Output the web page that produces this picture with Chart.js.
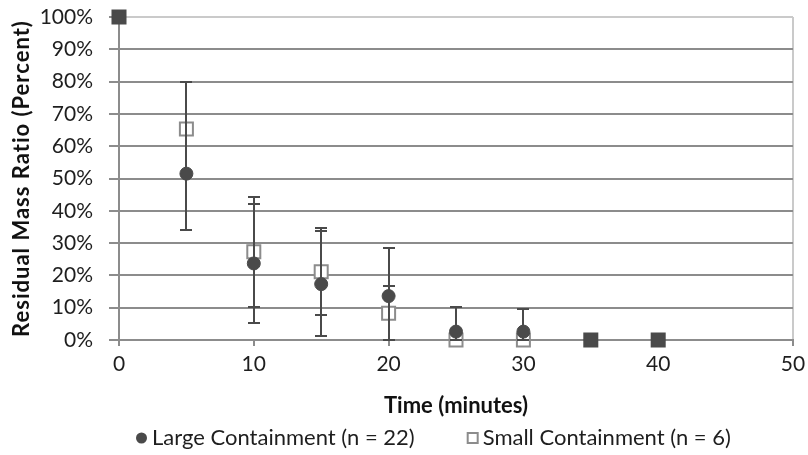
<!DOCTYPE html>
<html><head><meta charset="utf-8">
<script src="https://cdn.jsdelivr.net/npm/chart.js@4"></script>
<style>html,body{margin:0;padding:0;background:#fff}#wrap{width:808px;height:455px;position:relative}canvas{display:block}</style>
</head><body><div id="wrap"><canvas id="c" width="808" height="455"></canvas></div>
<script>
// ---- data ----
const times = [0, 5, 10, 15, 20, 25, 30, 35, 40];
const largeValues = [100, 51.5, 23.7, 17.3, 13.6, 2.6, 2.6, 0, 0];
const smallValues = [100, 65.3, 27.3, 21.1, 8.3, 0, 0, 0, 0];
const largeLow  = [null, 34, 5.4, 1.2, 0, 0, 0, null, null];
const largeHigh = [null, 80, 42, 33.6, 28.6, 10.2, 9.5, null, null];
const smallLow  = [null, null, 10.3, 7.6, 0, null, null, null, null];
const smallHigh = [null, null, 44.4, 34.6, 16.7, null, null, null, null];
const smallFilled = [true, false, false, false, false, false, false, true, true];
const xTicks = [0, 10, 20, 30, 40, 50];
const yTicks = [0, 10, 20, 30, 40, 50, 60, 70, 80, 90, 100];
const seriesNames = ['Large Containment (n = 22)', 'Small Containment (n = 6)'];
const xTitle = 'Time (minutes)';
const yTitle = 'Residual Mass Ratio (Percent)';

// ---- style ----
const DARK = '#4a4a4a';
const GRID = '#8c8c8c';
const LIGHT = '#cacaca';
const FONT = 'Lato';
const FS = 22;
const TFS = 21;

const errorBars = {
  id: 'errorBars',
  afterDatasetsDraw(chart) {
    const {ctx, scales: {x, y}} = chart;
    const sets = [[largeLow, largeHigh], [smallLow, smallHigh]];
    ctx.save();
    ctx.strokeStyle = DARK;
    ctx.lineWidth = 2;
    sets.forEach(([lo, hi]) => {
      times.forEach((t, i) => {
        if (lo[i] == null || hi[i] == null) return;
        const px = Math.round(x.getPixelForValue(t));
        const y1 = Math.round(y.getPixelForValue(lo[i]));
        const y2 = Math.round(y.getPixelForValue(hi[i]));
        ctx.beginPath();
        ctx.moveTo(px, y1); ctx.lineTo(px, y2);
        ctx.moveTo(px - 6, y1); ctx.lineTo(px + 6, y1);
        ctx.moveTo(px - 6, y2); ctx.lineTo(px + 6, y2);
        ctx.stroke();
      });
    });
    ctx.restore();
  }
};

const customLegend = {
  id: 'customLegend',
  afterDraw(chart) {
    const ctx = chart.ctx;
    const ly = 438;
    let lx = 136;
    ctx.save();
    ctx.font = FS + 'px ' + FONT;
    ctx.textBaseline = 'middle';
    ctx.textAlign = 'left';
    // item 1: filled circle
    ctx.fillStyle = DARK;
    ctx.beginPath(); ctx.arc(lx + 5.5, ly, 5.5, 0, Math.PI * 2); ctx.fill();
    ctx.fillStyle = '#1e1e1e';
    ctx.fillText(seriesNames[0], lx + 16, ly);
    lx = lx + 16 + ctx.measureText(seriesNames[0]).width + 52;
    // item 2: open square
    ctx.fillStyle = '#fff';
    ctx.strokeStyle = GRID;
    ctx.lineWidth = 2;
    ctx.fillRect(lx + 1, ly - 5, 10, 10);
    ctx.strokeRect(lx + 1, ly - 5, 10, 10);
    ctx.fillStyle = '#1e1e1e';
    ctx.fillText(seriesNames[1], lx + 16, ly);
    ctx.restore();
  }
};

const toPts = vals => times.map((t, i) => ({x: t, y: vals[i]}));

new Chart(document.getElementById('c'), {
  type: 'scatter',
  data: {
    datasets: [
      {
        label: seriesNames[0],
        data: toPts(largeValues),
        pointStyle: 'circle',
        pointRadius: 6.5,
        backgroundColor: DARK,
        borderColor: DARK,
        borderWidth: 1,
        showLine: false,
        clip: false
      },
      {
        label: seriesNames[1],
        data: toPts(smallValues),
        pointStyle: 'rect',
        pointRadius: 9.2,
        backgroundColor: smallFilled.map(f => f ? DARK : '#ffffff'),
        borderColor: smallFilled.map(f => f ? DARK : GRID),
        borderWidth: 2,
        showLine: false,
        clip: false
      }
    ]
  },
  options: {
    responsive: false,
    animation: false,
    devicePixelRatio: 1,
    layout: {padding: {left: 4, top: 17, right: 15, bottom: 36}},
    plugins: {legend: {display: false}, tooltip: {enabled: false}},
    scales: {
      x: {
        type: 'linear', min: 0, max: 50,
        afterBuildTicks: s => { s.ticks = xTicks.map(v => ({value: v})); },
        afterFit: s => { s.paddingLeft = 0; s.paddingRight = 0; s.height = 79; },
        grid: {
          color: c => (c.tick && c.tick.value === 50) ? LIGHT : 'rgba(0,0,0,0)',
          lineWidth: 2, tickColor: GRID, tickLength: 6
        },
        border: {color: GRID, width: 2},
        ticks: {font: {family: FONT, size: TFS}, color: '#1e1e1e', padding: 6, maxRotation: 0},
        title: {display: true, text: xTitle, color: '#111',
          font: {family: FONT, size: FS, weight: 'bold'}, padding: {top: 14, bottom: 0}}
      },
      y: {
        type: 'linear', min: 0, max: 100,
        afterBuildTicks: s => { s.ticks = yTicks.map(v => ({value: v})); },
        afterFit: s => {
          s.width = 115;
          s.paddingTop = 0; s.paddingBottom = 0;
          if (!s._spaced) {
            const orig = s.drawTitle.bind(s);
            s.drawTitle = function () {
              const ctx = this.ctx; ctx.save(); ctx.letterSpacing = '1px'; orig(); ctx.restore();
            };
            s._spaced = true;
          }
        },
        grid: {
          color: c => (c.tick && c.tick.value === 100) ? LIGHT : GRID,
          lineWidth: 2, tickColor: GRID, tickLength: 10
        },
        border: {color: GRID, width: 2},
        ticks: {font: {family: FONT, size: TFS}, color: '#1e1e1e', padding: 16, callback: v => v + '%'},
        title: {display: true, text: yTitle, color: '#111',
          font: {family: FONT, size: FS, weight: 'bold'}, padding: {top: 5, bottom: 0}}
      }
    }
  },
  plugins: [errorBars, customLegend]
});
</script></body></html>
